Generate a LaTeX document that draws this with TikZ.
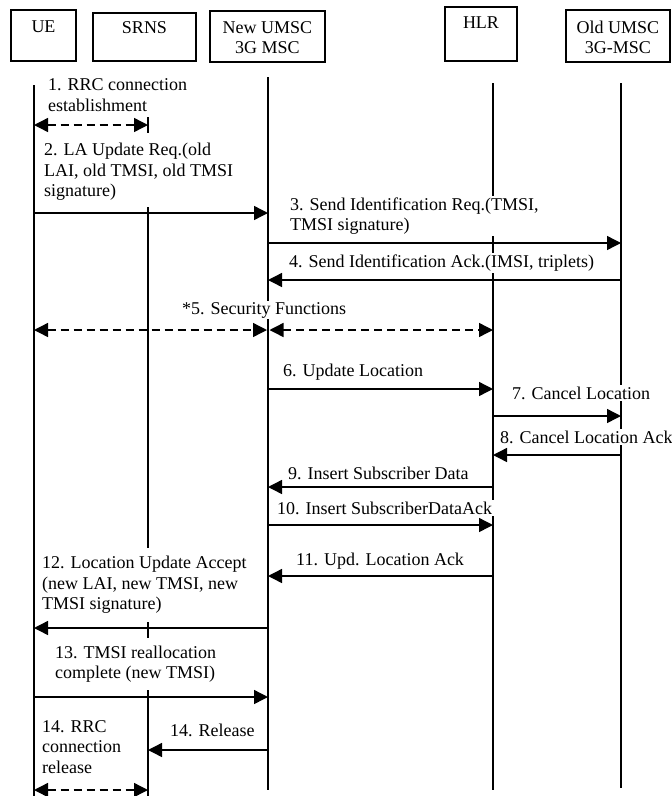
\documentclass[tikz,border=0pt]{standalone}
\usepackage{fontspec}
\setmainfont{Liberation Serif}
\usetikzlibrary{arrows.meta}
\begin{document}
\begin{tikzpicture}[x=1pt,y=-1pt,
  box/.style={draw,line width=1.6pt,inner sep=0pt},
  boxtext/.style={align=center,inner sep=0pt,font=\fontsize{18}{20}\selectfont},
  life/.style={line width=1.8pt},
  msg/.style={line width=1.4pt,-{Triangle[length=14pt,width=14pt]}},
  dmsg/.style={line width=1.4pt,dash pattern=on 8pt off 5pt,{Triangle[length=14pt,width=14pt]}-{Triangle[length=14pt,width=14pt]}},
  lbl/.style={fill=white,inner sep=1.5pt,anchor=west,align=left,font=\fontsize{18}{20.5}\selectfont}]
\useasboundingbox (0,0) rectangle (672,796);

% header boxes
\node[box,minimum width=65pt,minimum height=51pt] (ue) at (43.5,35.5) {};
\node[box,minimum width=103pt,minimum height=48pt] (srns) at (144.5,37) {};
\node[box,minimum width=115pt,minimum height=51pt] (new) at (267.5,36.5) {};
\node[box,minimum width=72pt,minimum height=54pt] (hlr) at (481,34) {};
\node[box,minimum width=104pt,minimum height=52pt] (old) at (618,36) {};
\node[boxtext] (ueT) at (43.5,27) {UE};
\node[boxtext] (srnsT) at (144.5,28) {SRNS};
\node[boxtext] (newT) at (267.5,37.5) {New UMSC\\3G MSC};
\node[boxtext] (hlrT) at (481,23) {HLR};
\node[boxtext] (oldT) at (618,37.5) {Old UMSC\\3G-MSC};

% lifeline columns
\coordinate (xUE) at (34,0);
\coordinate (xSR) at (148,0);
\coordinate (xNW) at (268,0);
\coordinate (xHL) at (493,0);
\coordinate (xOL) at (621,0);

\draw[life] (xUE |- 0,85) -- (xUE |- 0,796);
\draw[life] (xSR |- 0,117) -- (xSR |- 0,133);
\draw[life] (xSR |- 0,207) -- (xSR |- 0,548);
\draw[life] (xSR |- 0,622) -- (xSR |- 0,638);
\draw[life] (xSR |- 0,690) -- (xSR |- 0,796);
\draw[life] (xNW |- 0,77) -- (xNW |- 0,790);
\draw[life] (xHL |- 0,83) -- (xHL |- 0,790);
\draw[life] (xOL |- 0,83) -- (xOL |- 0,788);

% labels
\node[lbl] (t1) at (46.5,95) {1. RRC connection\\establishment};
\node[lbl] (t2) at (42.5,172) {2. LA Update Req.(old\\LAI, old TMSI, old TMSI\\signature)};
\node[lbl] (t3) at (288.5,216) {3. Send Identification Req.(TMSI,\\TMSI signature)};
\node[lbl] (t4) at (287.5,263) {4. Send Identification Ack.(IMSI, triplets)};
\node[lbl] (t5) at (180.5,310) {*5. Security Functions};
\node[lbl] (t6) at (281.5,372) {6. Update Location};
\node[lbl] (t7) at (510.5,393) {7. Cancel Location};
\node[lbl] (t8) at (498.5,437) {8. Cancel Location Ack};
\node[lbl] (t9) at (286.5,473) {9. Insert Subscriber Data};
\node[lbl] (t10) at (275.5,508) {10. Insert SubscriberDataAck};
\node[lbl] (t11) at (294.5,561) {11. Upd. Location Ack};
\node[lbl] (t12) at (40.5,585) {12. Location Update Accept\\(new LAI, new TMSI, new\\TMSI signature)};
\node[lbl] (t13) at (53.5,664) {13. TMSI reallocation\\complete (new TMSI)};
\node[lbl] (t14a) at (40.5,747) {14. RRC\\connection\\release};
\node[lbl] (t14b) at (168.5,730) {14. Release};

% messages
\draw[dmsg] (xUE |- 0,125) -- (xSR |- 0,125);
\draw[msg] (xUE |- 0,213) -- (xNW |- 0,213);
\draw[life] (xHL |- 0,238) -- (xHL |- 0,249);
\draw[msg] (xNW |- 0,243) -- (xOL |- 0,243);
\draw[msg] (xOL |- 0,280) -- (xNW |- 0,280);
\draw[dmsg,shorten >=1pt] (xUE |- 0,330) -- (xNW |- 0,330);
\draw[dmsg,shorten <=1.5pt] (xNW |- 0,330) -- (xHL |- 0,330);
\draw[msg] (xNW |- 0,389) -- (xHL |- 0,389);
\draw[life] (xOL |- 0,407) -- (xOL |- 0,422);
\draw[msg] (xHL |- 0,416) -- (xOL |- 0,416);
\draw[msg] (xOL |- 0,455) -- (xHL |- 0,455);
\draw[msg] (xHL |- 0,487) -- (xNW |- 0,487);
\draw[msg] (xNW |- 0,525) -- (xHL |- 0,525);
\draw[msg] (xHL |- 0,576) -- (xNW |- 0,576);
\draw[msg] (xNW |- 0,628) -- (xUE |- 0,628);
\draw[msg] (xUE |- 0,697) -- (xNW |- 0,697);
\draw[msg] (xNW |- 0,750) -- (xSR |- 0,750);
\draw[dmsg] (xUE |- 0,790) -- (xSR |- 0,790);
\end{tikzpicture}
\end{document}
